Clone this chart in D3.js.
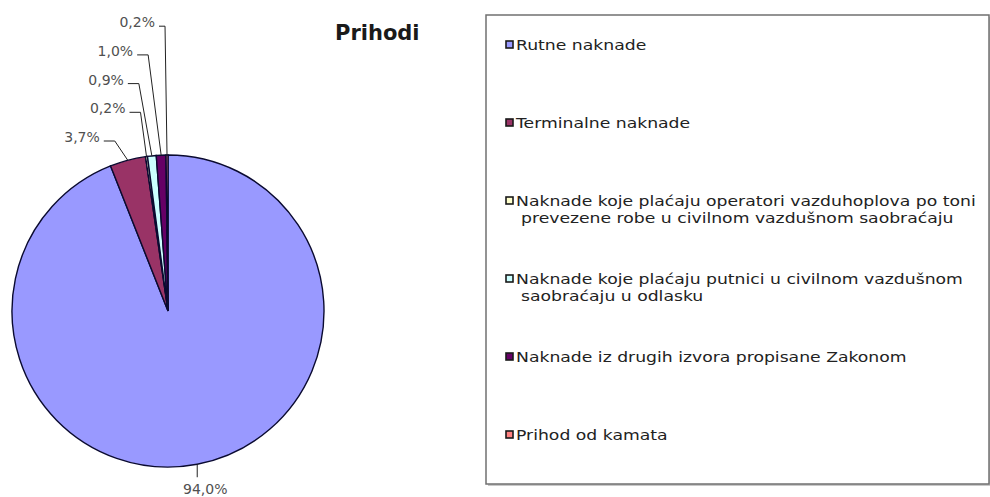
<!DOCTYPE html>
<html>
<head>
<meta charset="utf-8">
<script src="https://cdn.jsdelivr.net/npm/d3@7"></script>
<style>
  body { margin: 0; background: #fff; }
  svg { display: block; font-family: "DejaVu Sans", Verdana, sans-serif; }
</style>
</head>
<body>
<div id="chart"></div>
<script>
// data
const categories = [
  "Rutne naknade",
  "Terminalne naknade",
  "Naknade koje plaćaju operatori vazduhoplova po toni prevezene robe u civilnom vazdušnom saobraćaju",
  "Naknade koje plaćaju putnici u civilnom vazdušnom saobraćaju u odlasku",
  "Naknade iz drugih izvora propisane Zakonom",
  "Prihod od kamata"
];
// legend lines (as wrapped in the original)
const legendLines = [
  ["Rutne naknade"],
  ["Terminalne naknade"],
  ["Naknade koje plaćaju operatori vazduhoplova po toni", "prevezene robe u civilnom vazdušnom saobraćaju"],
  ["Naknade koje plaćaju putnici u civilnom vazdušnom", "saobraćaju u odlasku"],
  ["Naknade iz drugih izvora propisane Zakonom"],
  ["Prihod od kamata"]
];
const values = [94.0, 3.7, 0.2, 0.9, 1.0, 0.2];
const colors = ["#9999FF", "#993366", "#FFFFCC", "#CCFFFF", "#660066", "#FF8080"];
const title = "Prihodi";

const width = 990, height = 497;
const cx = 168, cy = 311, r = 156;

const svg = d3.select("#chart").append("svg")
    .attr("width", width)
    .attr("height", height);

const fmt = v => d3.format(".1f")(v).replace(".", ",") + "%";

const pie = d3.pie().sort(null).value(d => d)
    .startAngle(0).endAngle(2 * Math.PI);
const arcs = pie(values);
const arc = d3.arc().innerRadius(0).outerRadius(r);

const graph = svg.append("g").attr("transform", "translate(" + cx + "," + cy + ")");

graph.selectAll("path.slice")
  .data(arcs)
  .join("path")
    .attr("class", "slice")
    .attr("d", arc)
    .style("fill", (d, i) => colors[i])
    .style("stroke", "#0a0a30")
    .style("stroke-width", 1.4);

// labels with leader lines
const edge = d => {
  const a = (d.startAngle + d.endAngle) / 2;
  return [r * Math.sin(a), -r * Math.cos(a)];
};
const labelG = svg.append("g").attr("transform", "translate(" + cx + "," + cy + ")");

arcs.forEach((d, i) => {
  const [px, py] = edge(d);
  if (i === 0) {
    // big slice, label under the pie
    labelG.append("line")
      .attr("x1", px).attr("y1", py)
      .attr("x2", px).attr("y2", py + 13)
      .style("stroke", "#222").style("stroke-width", 1);
    labelG.append("text")
      .attr("x", px + 8).attr("y", py + 30)
      .attr("text-anchor", "middle")
      .attr("font-size", 14)
      .attr("fill", "#505050")
      .text(fmt(values[i]));
  } else {
    // small slices: labels stacked upward above the pie
    const k = i - 1;
    const ly = -r - 18 - k * 28.7;
    const tx = px - 28 + (k === 4 ? 16 : k === 1 ? 7 : 0);
    labelG.append("path")
      .attr("d", "M" + (tx + 4) + "," + (ly + 4) + "H" + Math.min(tx + 15, px - 2) + "L" + px + "," + py)
      .style("fill", "none").style("stroke", "#222").style("stroke-width", 1);
    labelG.append("text")
      .attr("x", tx).attr("y", ly + 5)
      .attr("text-anchor", "end")
      .attr("font-size", 14)
      .attr("fill", "#505050")
      .text(fmt(values[i]));
  }
});

// title
svg.append("text")
  .attr("x", 335).attr("y", 40)
  .attr("font-size", 21)
  .attr("font-weight", "bold")
  .attr("fill", "#1a1a1a")
  .text(title);

// legend
const lx = 486, ly = 15, lw = 503, lh = 469;
svg.append("rect")
  .attr("x", lx + 2).attr("y", ly + 2)
  .attr("width", lw).attr("height", lh)
  .style("fill", "#c8c8c8");
svg.append("rect")
  .attr("x", lx).attr("y", ly)
  .attr("width", lw).attr("height", lh)
  .style("fill", "#fff")
  .style("stroke", "#707070")
  .style("stroke-width", 1.5);

const legend = svg.append("g");
const rowY = d3.scalePoint().domain(d3.range(categories.length)).range([45, 45 + 78 * 5]);

categories.forEach((c, i) => {
  const lines = legendLines[i];
  const y0 = rowY(i);
  const g = legend.append("g");
  g.append("rect")
    .attr("x", 506).attr("y", y0 - 4)
    .attr("width", 7).attr("height", 7)
    .style("fill", colors[i])
    .style("stroke", "#1a1a1a")
    .style("stroke-width", 1.6);
  lines.forEach((t, j) => {
    g.append("text")
      .attr("transform", "translate(" + (j === 0 ? 516 : 521) + "," + (y0 + j * 17 + 5) + ") scale(1.23,1)")
      .attr("font-size", 14)
      .attr("fill", "#222")
      .text(t);
  });
});
</script>
</body>
</html>
